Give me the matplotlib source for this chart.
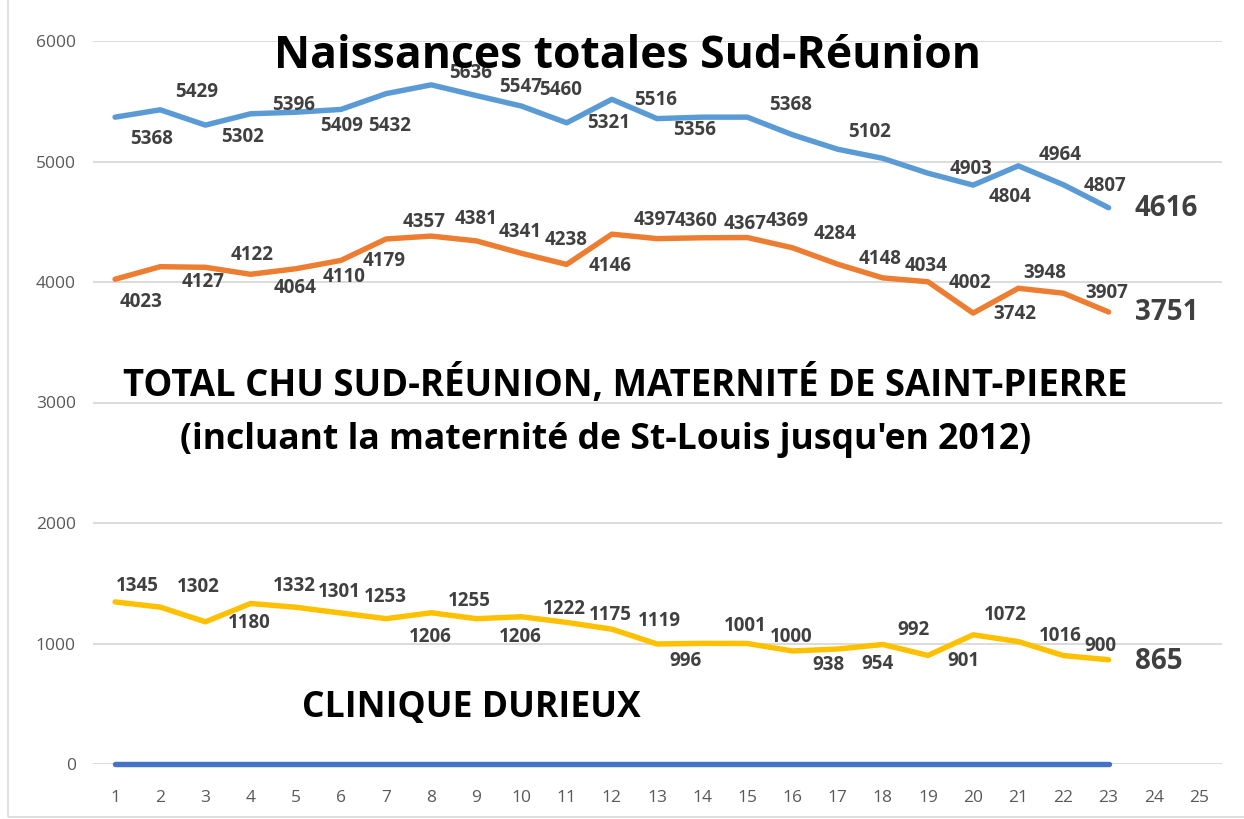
import matplotlib
matplotlib.use("Agg")
import matplotlib.pyplot as plt
from matplotlib.patches import Rectangle

# ---------------- data ----------------
x_values = list(range(1, 24))
x_ticks = list(range(1, 26))
y_ticks = [0, 1000, 2000, 3000, 4000, 5000, 6000]

total_sud = [5368, 5429, 5302, 5396, 5409, 5432, 5563, 5636, 5547, 5460, 5321, 5516,
             5356, 5368, 5368, 5222, 5102, 5026, 4903, 4804, 4964, 4807, 4616]
chu_sud = [4023, 4127, 4122, 4064, 4110, 4179, 4357, 4381, 4341, 4238, 4146, 4397,
           4360, 4367, 4369, 4284, 4148, 4034, 4002, 3742, 3948, 3907, 3751]
clinique = [1345, 1302, 1180, 1332, 1301, 1253, 1206, 1255, 1206, 1222, 1175, 1119,
            996, 1001, 1000, 938, 954, 992, 901, 1072, 1016, 900, 865]
baseline = [0] * 23

# which points carry a data label (blue series has a few unlabeled points)
total_labeled = [True, True, True, True, True, True, False, True, True, True, True, True,
                 True, False, True, False, True, False, True, True, True, True, True]

title = "Naissances totales Sud-Réunion"
chu_title = "TOTAL CHU SUD-RÉUNION, MATERNITÉ DE SAINT-PIERRE"
chu_sub = "(incluant la maternité de St-Louis jusqu'en 2012)"
clin_title = "CLINIQUE DURIEUX"

# ---------------- layout (label offsets in pixels: dx right, dy down) ----------------
total_off = [(36, 22), (36, -18), (37, 12), (43, -9), (46, 14), (49, 17), None, (39, -12),
             (44, -9), (39, -16), (42, 0), (44, 1), (38, 11), None, (43, -12), None,
             (32, -17), None, (43, -4), (37, 12), (42, -11), (42, 1), (58, 1)]
chu_off = [(26, 23), (43, 15), (47, -12), (45, 14), (48, 8), (43, 1), (38, -17), (45, -17),
           (44, -9), (45, -13), (43, 2), (43, -14), (39, -18), (43, -14), (40, -17), (43, -14),
           (42, -5), (43, -12), (42, 1), (42, 1), (26, -15), (43, 0), (58, 0)]
clin_off = [(22, -16), (38, -20), (44, 1), (44, -17), (44, -15), (44, -16), (44, 18), (38, -12),
            (44, 18), (43, -8), (44, -7), (48, -8), (29, 17), (43, -17), (44, -6), (36, 14),
            (40, 15), (31, -14), (35, 6), (32, -20), (42, -6), (37, -10), (50, 2)]

W, H = 1244, 819
fig = plt.figure(figsize=(W / 100, H / 100), dpi=100)
fig.patch.set_facecolor("white")

def fx(px):
    return px / W

def fy(py):
    return 1 - py / H

ax = fig.add_axes([fx(92.5), fy(764), fx(1221.5) - fx(92.5), fy(41) - fy(764)])
ax.set_xlim(0.5, 25.5)
ax.set_ylim(0, 6000)
for s in ax.spines.values():
    s.set_visible(False)
ax.set_yticks(y_ticks)
ax.set_xticks(x_ticks)
ax.grid(axis="y", color="#D9D9D9", linewidth=1.3)
ax.set_axisbelow(True)
ax.tick_params(length=0, labelsize=12.5, labelcolor="#595959")
ax.tick_params(axis="x", pad=19)
ax.tick_params(axis="y", pad=12)
for lab in ax.get_xticklabels() + ax.get_yticklabels():
    lab.set_family(["Open Sans", "DejaVu Sans"])

BLUE = "#5B9BD5"
ORANGE = "#ED7D31"
YELLOW = "#FFC000"
DARKBLUE = "#4472C4"
LW = 3.9

ax.plot(x_values, total_sud, color=BLUE, lw=LW, solid_joinstyle="round", solid_capstyle="round", zorder=3)
ax.plot(x_values, chu_sud, color=ORANGE, lw=LW, solid_joinstyle="round", solid_capstyle="round", zorder=3)
ax.plot(x_values, clinique, color=YELLOW, lw=LW, solid_joinstyle="round", solid_capstyle="round", zorder=3)
ax.plot(x_values, baseline, color=DARKBLUE, lw=LW, solid_capstyle="round", zorder=3, clip_on=False)

LABEL_COLOR = "#404040"
LFONT = ["Open Sans", "DejaVu Sans"]

def add_labels(xs, ys, offs, labeled=None):
    n = len(xs)
    for i in range(n):
        if labeled is not None and not labeled[i]:
            continue
        off = offs[i]
        if off is None:
            continue
        last = (i == n - 1)
        ax.annotate(str(ys[i]), (xs[i], ys[i]), xytext=(off[0], -off[1]),
                    textcoords="offset pixels", ha="center", va="center",
                    fontsize=20 if last else 13.5, fontweight="bold",
                    color=LABEL_COLOR, family=LFONT, zorder=5, annotation_clip=False)

add_labels(x_values, total_sud, total_off, total_labeled)
add_labels(x_values, chu_sud, chu_off)
add_labels(x_values, clinique, clin_off)

TFONT = ["Open Sans", "DejaVu Sans"]
fig.text(fx(628), fy(57), title, ha="center", va="center", fontsize=32,
         fontweight="bold", color="black", family=TFONT, zorder=10)
fig.text(fx(625), fy(385), chu_title, ha="center", va="center", fontsize=26.3,
         fontweight="bold", color="black", family=TFONT)
fig.text(fx(606), fy(440), chu_sub, ha="center", va="center", fontsize=25.6,
         fontweight="bold", color="black", family=TFONT)
fig.text(fx(471), fy(708), clin_title, ha="center", va="center", fontsize=25.6,
         fontweight="bold", color="black", family=TFONT)

# chart-area border
fig.patches.append(Rectangle((fx(8), fy(817)), fx(1250) - fx(8), fy(-5) - fy(817),
                             transform=fig.transFigure, fill=False, edgecolor="#D9D9D9", lw=1.2))

fig.savefig("out.png", dpi=100, facecolor="white")
